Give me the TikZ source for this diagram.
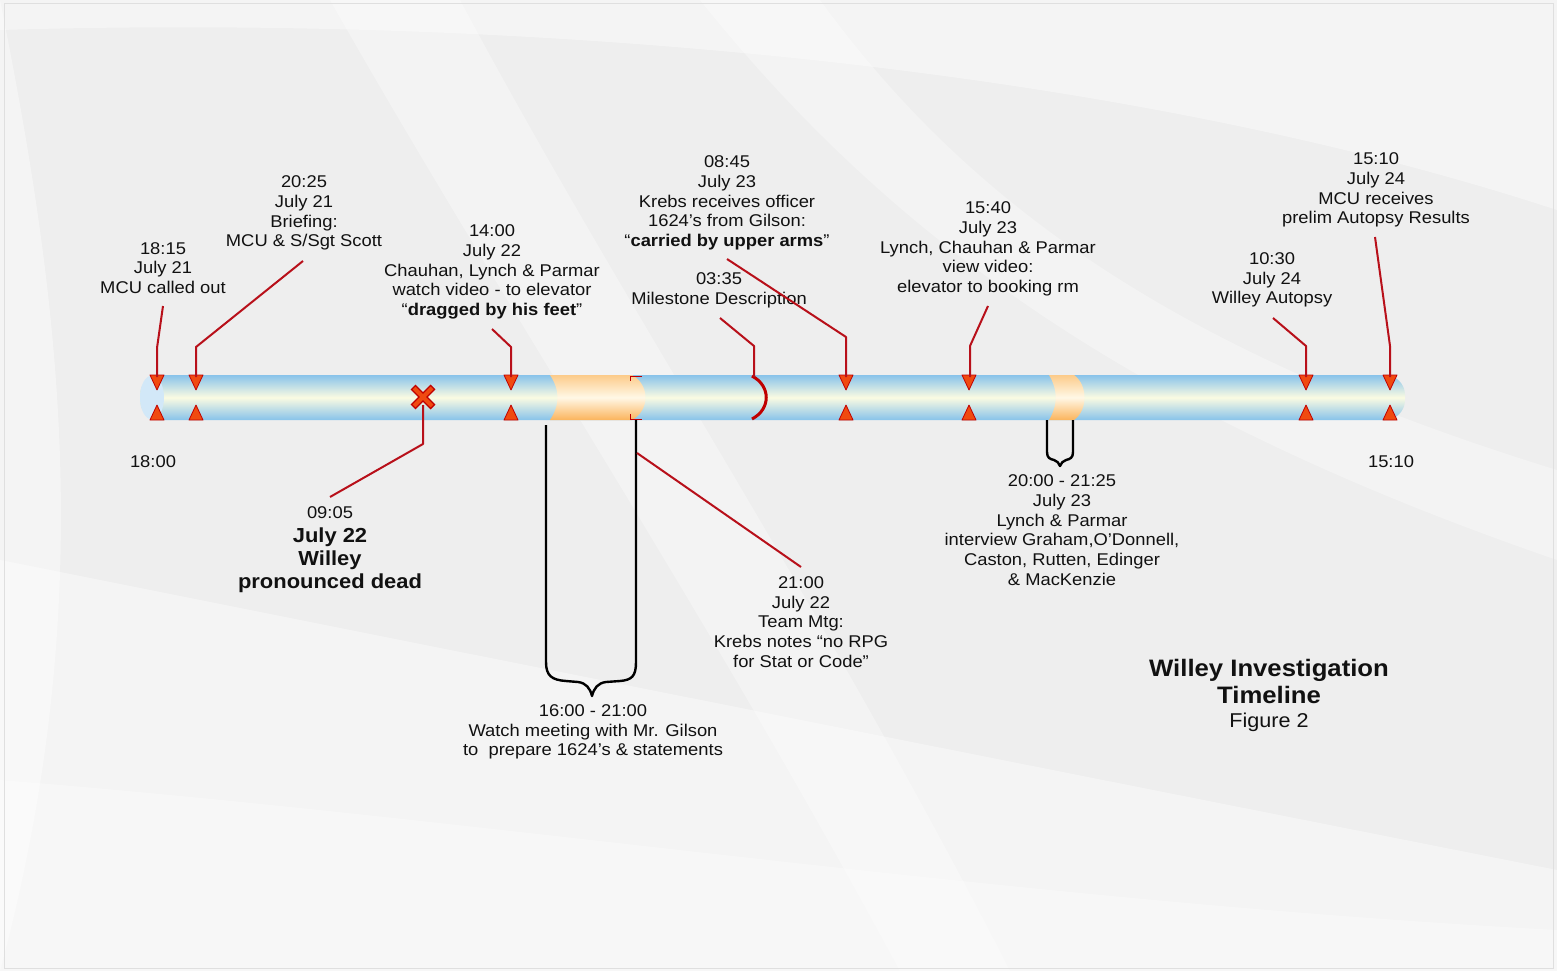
\documentclass[tikz,border=0pt]{standalone}
\usepackage{fontspec}
\setmainfont{Liberation Sans}[FakeStretch=1.08]
\definecolor{bg}{HTML}{EEEEEE}
\definecolor{barblue}{HTML}{88C3EA}
\definecolor{barmid}{HTML}{FBFBE2}
\definecolor{barcap}{HTML}{D2E8F8}
\definecolor{orgtop}{HTML}{FCCB8A}
\definecolor{orgbot}{HTML}{FBB45C}
\definecolor{orgmid}{HTML}{FFF8E6}
\definecolor{mkred}{HTML}{C00000}
\definecolor{mkfill}{HTML}{F04A10}
\definecolor{linered}{HTML}{B8101A}
\definecolor{txt}{HTML}{111111}
\newcommand\mkdown[1]{\draw[tri, shift={(#1,0)}] (-7,375) -- (7,375) -- (0,390) -- cycle;}
\newcommand\mkup[1]{\draw[tri, shift={(#1,0)}] (-7,420) -- (7,420) -- (0,405) -- cycle;}
\begin{document}
\begin{tikzpicture}[x=1pt,y=-1pt,
  lbl/.style={align=center, inner sep=0pt, text=txt, font=\fontsize{17}{19.7}\selectfont},
  boldlbl/.style={align=center, inner sep=0pt, text=txt, font=\fontsize{20.3}{23}\selectfont\bfseries},
  titlelbl/.style={align=center, inner sep=0pt, text=txt, font=\fontsize{23.8}{27}\selectfont\bfseries},
  conn/.style={draw=linered, line width=2pt, line join=round},
  bracestyle/.style={draw=black, line width=2.4pt, line join=round},
  tri/.style={fill=mkfill, draw=mkred, line width=0.8pt, line join=round},
  band/.style={fill=white, opacity=.4},
]
\useasboundingbox (0,0) rectangle (1557,971);
% background
\fill[bg] (0,0) rectangle (1557,971);
\fill[band] (0,30) .. controls (500,15) and (1100,60) .. (1557,210) -- (1557,0) -- (0,0) -- cycle;
\fill[band] (0,560) .. controls (400,640) and (1000,760) .. (1557,870) -- (1557,971) -- (0,971) -- cycle;
\fill[band, opacity=.3] (330,0) .. controls (500,300) and (700,600) .. (900,971) -- (1010,971) .. controls (820,600) and (620,300) .. (460,0) -- cycle;
\fill[band, opacity=.3] (700,0) .. controls (900,250) and (1150,420) .. (1557,560) -- (1557,470) .. controls (1200,360) and (980,220) .. (820,0) -- cycle;
\fill[band] (0,0) .. controls (60,300) and (100,600) .. (0,971) -- (0,0);
\fill[band, opacity=.3] (0,780) .. controls (500,820) and (1000,900) .. (1557,930) -- (1557,971) -- (0,971) -- cycle;
\draw[gray!25, line width=1pt] (4,4) rectangle (1553,968);

% bar
\path[top color=barblue, bottom color=barblue, middle color=barmid, rounded corners=20pt] (140,375) rectangle (1405,420);
\fill[barcap] (152,397.5) ellipse [x radius=12, y radius=22];
% orange segments
\path[top color=orgtop, bottom color=orgbot, middle color=orgmid] (550,375) .. controls (560,390) and (560,405) .. (550,420) -- (632,420) .. controls (650,410) and (650,385) .. (632,375) -- cycle;
\path[top color=orgtop, bottom color=orgbot, middle color=orgmid] (1049,375) .. controls (1058,390) and (1058,405) .. (1049,420) -- (1074,420) .. controls (1088,410) and (1088,385) .. (1074,375) -- cycle;
\draw[mkred, line width=1pt] (642,376) -- (630,376) -- (630,381);
\draw[mkred, line width=1pt] (630,414) -- (630,419) -- (642,419);

% markers
\foreach \xx in {157,196,511,846,969,1306,1390} {\mkdown{\xx}\mkup{\xx}}
\draw[mkred, line width=7pt] (413,387) -- (433,407) (413,407) -- (433,387);
\draw[mkfill, line width=4pt] (414,388) -- (432,406) (414,406) -- (432,388);
\coordinate (xm) at (423,405);
% milestone arc
\draw[mkred, line width=3pt] (752,376) .. controls (771,386) and (771,409) .. (752,419);

% labels
\node[lbl] (n1815) at (163,268) {18:15\\July 21\\MCU called out};
\node[lbl] (n2025) at (304,213) {20:25\\July 21\\Briefing:\\MCU \& S/Sgt Scott};
\node[lbl] (n1400) at (492,272) {14:00\\July 22\\Chauhan, Lynch \& Parmar\\watch video - to elevator\\“\textbf{dragged by his feet}”};
\node[lbl] (n0845) at (727,203) {08:45\\July 23\\Krebs receives officer\\1624’s from Gilson:\\“\textbf{carried by upper arms}”};
\node[lbl] (n0335) at (719,290) {03:35\\Milestone Description};
\node[lbl] (n1540) at (988,249) {15:40\\July 23\\Lynch, Chauhan \& Parmar\\view video:\\elevator to booking rm};
\node[lbl] (n1510) at (1376,190) {15:10\\July 24\\MCU receives\\prelim Autopsy Results};
\node[lbl] (n1030) at (1272,280) {10:30\\July 24\\Willey Autopsy};
\node[lbl] (start) at (153,462) {18:00};
\node[lbl] (end) at (1391,462) {15:10};
\node[lbl] (n0905) at (330,513) {09:05};
\node[boldlbl] (dead) at (330,560) {July 22\\Willey\\pronounced dead};
\node[lbl] (n1600) at (593,732) {16:00 - 21:00\\Watch meeting with Mr. Gilson\\to\ \ prepare 1624’s \& statements};
\node[lbl] (n2100) at (801,622) {21:00\\July 22\\Team Mtg:\\Krebs notes “no RPG\\for Stat or Code”};
\node[lbl] (n2000) at (1062,530) {20:00 - 21:25\\July 23\\Lynch \& Parmar\\interview Graham,O’Donnell,\\Caston, Rutten, Edinger\\\& MacKenzie};
\node[titlelbl] (title) at (1269,681) {Willey Investigation\\Timeline};
\node[lbl, font=\fontsize{20}{24}\selectfont] (fig) at (1269,722) {Figure 2};

% connector coordinates
\coordinate (s1) at (163,306); \coordinate (b1) at (157,348); \coordinate (t1) at (157,377);
\coordinate (s2) at (303,261); \coordinate (b2) at (196,347); \coordinate (t2) at (196,377);
\coordinate (s3) at (492,329); \coordinate (b3) at (511,347); \coordinate (t3) at (511,377);
\coordinate (s4) at (727,259); \coordinate (b4) at (846,337); \coordinate (t4) at (846,377);
\coordinate (s5) at (720,318); \coordinate (b5) at (754,346); \coordinate (t5) at (754,377);
\coordinate (s6) at (988,306); \coordinate (b6) at (970,346); \coordinate (t6) at (970,377);
\coordinate (s7) at (1273,318); \coordinate (b7) at (1306,346); \coordinate (t7) at (1306,377);
\coordinate (s8) at (1375,237); \coordinate (b8) at (1390,346); \coordinate (t8) at (1390,377);
\coordinate (b9) at (423,444); \coordinate (s9) at (330,497);
\coordinate (s10) at (637,453); \coordinate (e10) at (801,567);

\draw[conn] (s1) -- (b1) -- (t1);
\draw[conn] (s2) -- (b2) -- (t2);
\draw[conn] (s3) -- (b3) -- (t3);
\draw[conn] (s4) -- (b4) -- (t4);
\draw[conn] (s5) -- (b5) -- (t5);
\draw[conn] (s6) -- (b6) -- (t6);
\draw[conn] (s7) -- (b7) -- (t7);
\draw[conn] (s8) -- (b8) -- (t8);
\draw[conn] (xm) -- (b9) -- (s9);

% braces
\coordinate (br1l) at (546,425); \coordinate (br1r) at (636,420);
\draw[bracestyle] (br1l) -- (546,662) .. controls (546,676) and (552,680) .. (566,681) -- (578,682) .. controls (586,683) and (590,688) .. (592,696) .. controls (594,688) and (598,683) .. (606,682) -- (620,681) .. controls (632,680) and (636,676) .. (636,662) -- (br1r);
\coordinate (br2l) at (1047,420); \coordinate (br2r) at (1073,420);
\draw[bracestyle] (br2l) -- (1047,452) .. controls (1047,458) and (1050,459) .. (1054,460) .. controls (1057,461) and (1059,463) .. (1060,466) .. controls (1061,463) and (1063,461) .. (1066,460) .. controls (1070,459) and (1073,458) .. (1073,452) -- (br2r);
\draw[conn] (s10) -- (e10);
\end{tikzpicture}
\end{document}
